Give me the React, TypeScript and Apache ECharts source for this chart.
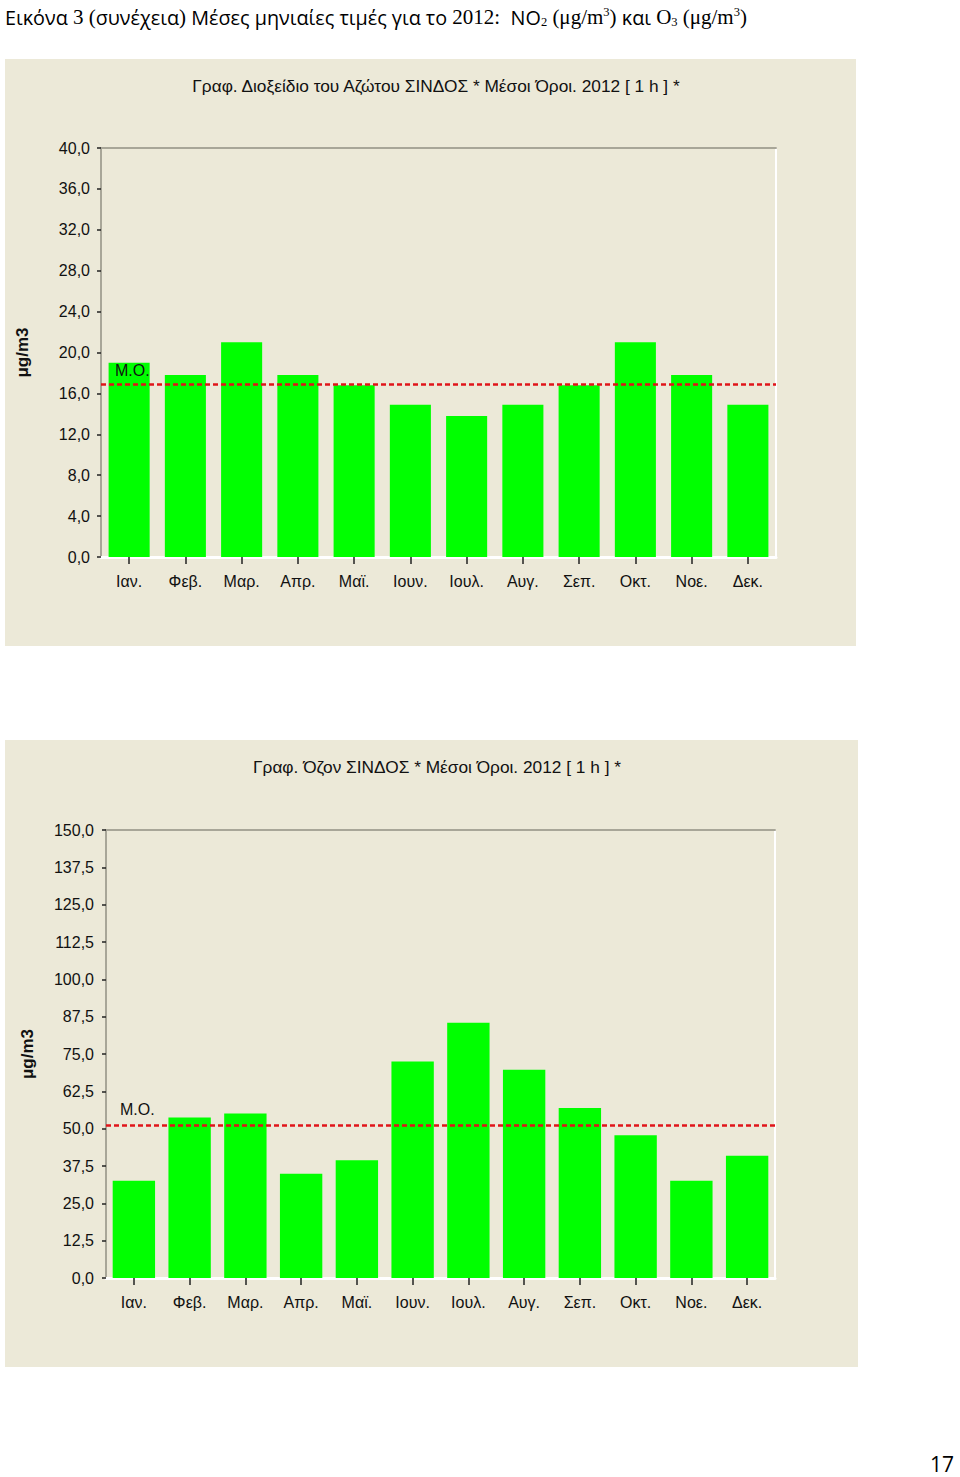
import React, { useEffect, useRef } from "react";
import * as echarts from "echarts";

// ---------- data ----------
const months = ["Ιαν.", "Φεβ.", "Μαρ.", "Απρ.", "Μαϊ.", "Ιουν.", "Ιουλ.", "Αυγ.", "Σεπ.", "Οκτ.", "Νοε.", "Δεκ."];

const no2Title = "Γραφ. Διοξείδιο του Αζώτου ΣΙΝΔΟΣ * Μέσοι Όροι. 2012 [ 1 h ] *";
const no2Values = [19.0, 17.8, 21.0, 17.8, 16.8, 14.9, 13.8, 14.9, 16.8, 21.0, 17.8, 14.9];
const no2Mean = 16.9;
const no2AxisMax = 40;
const no2AxisStep = 4;

const o3Title = "Γραφ. Όζον ΣΙΝΔΟΣ * Μέσοι Όροι. 2012 [ 1 h ] *";
const o3Values = [32.6, 53.7, 55.1, 34.9, 39.4, 72.5, 85.5, 69.7, 56.9, 47.8, 32.6, 40.9];
const o3Mean = 51.0;
const o3AxisMax = 150;
const o3AxisStep = 12.5;

const unitName = "μg/m3";
const meanLabel = "M.O.";
const pageNumber = "17";

// ---------- styles ----------
const PANEL = "#ECE9D8";
const GREEN = "#00FF00";
const RED = "#E0141A";
const AXIS_GRAY = "#A8A698";
const LABEL_FONT = "'Liberation Sans', Arial, sans-serif";
const TITLE_FONT = "'Liberation Sans Narrow', 'Liberation Sans', Arial, sans-serif";
const SANS = "'Open Sans', 'Noto Sans', sans-serif";
const SERIF = "'Liberation Serif', 'DejaVu Serif', serif";

const fmt = (v: number) => v.toFixed(1).replace(".", ",");

function axesFor(gridIndex: number, max: number, step: number, labelMargin: number, xMargin: number) {
  const xAxes = [
    {
      type: "category",
      gridIndex,
      data: months,
      position: "bottom",
      axisLine: { show: true, onZero: false, lineStyle: { color: "#ffffff", width: 3 } },
      axisTick: { show: true, alignWithLabel: true, length: 7, lineStyle: { color: "#222", width: 1.5 } },
      axisLabel: { color: "#111", fontSize: 16, fontFamily: LABEL_FONT, margin: xMargin },
      splitLine: { show: false },
    },
    {
      type: "category",
      gridIndex,
      data: months,
      position: "top",
      axisLine: { show: true, onZero: false, lineStyle: { color: AXIS_GRAY, width: 2 } },
      axisTick: { show: false },
      axisLabel: { show: false },
      splitLine: { show: false },
    },
  ];
  const yAxes = [
    {
      type: "value",
      gridIndex,
      min: 0,
      max,
      interval: step,
      position: "left",
      name: unitName,
      nameLocation: "middle",
      nameGap: 70,
      nameRotate: 90,
      nameTextStyle: { color: "#111", fontSize: 17, fontWeight: "bold", fontFamily: LABEL_FONT },
      axisLine: { show: true, onZero: false, lineStyle: { color: AXIS_GRAY, width: 2 } },
      axisTick: { show: true, length: 4, lineStyle: { color: "#222", width: 1.5 } },
      axisLabel: { color: "#111", fontSize: 16, fontFamily: LABEL_FONT, margin: labelMargin, formatter: fmt },
      splitLine: { show: false },
    },
    {
      type: "value",
      gridIndex,
      min: 0,
      max,
      interval: step,
      position: "right",
      axisLine: { show: true, onZero: false, lineStyle: { color: "#ffffff", width: 2 } },
      axisTick: { show: false },
      axisLabel: { show: false },
      splitLine: { show: false },
    },
  ];
  return { xAxes, yAxes };
}

function barSeries(idx: number, values: number[], mean: number, gap: string, dist: number[]) {
  return {
    type: "bar",
    xAxisIndex: idx,
    yAxisIndex: idx,
    data: values,
    barCategoryGap: gap,
    itemStyle: { color: GREEN },
    z: 2,
    markLine: {
      silent: true,
      symbol: "none",
      z: 5,
      data: [{ yAxis: mean }],
      lineStyle: { color: RED, type: [5, 3], width: 2.5 },
      label: {
        show: true,
        position: "insideStartTop",
        formatter: meanLabel,
        color: "#111",
        fontSize: 16,
        fontFamily: LABEL_FONT,
        distance: dist,
      },
    },
  };
}

const a1 = axesFor(0, no2AxisMax, no2AxisStep, 11, 16);
const a2 = axesFor(1, o3AxisMax, o3AxisStep, 12, 16);

const header =
  "{s|Εικόνα }{r|3 (}{s|συνέχεια}{r|) }{s|Μέσες μηνιαίες τιμές για το }{r|2012:  }{s|NO}{sub|2}{r| (μg/m}{sup|3}{r|) }{s|και }{r|O}{sub|3}{r| (μg/m}{sup|3}{r|)}";

const option: any = {
  animation: false,
  backgroundColor: "#ffffff",
  grid: [
    { left: 101, top: 148, width: 675, height: 409, containLabel: false },
    { left: 106, top: 830, width: 669, height: 448, containLabel: false },
  ],
  xAxis: [...a1.xAxes, ...a2.xAxes],
  yAxis: [...a1.yAxes, ...a2.yAxes],
  series: [
    barSeries(0, no2Values, no2Mean, "27%", [14, 6]),
    barSeries(2, o3Values, o3Mean, "24%", [14, 8]),
  ],
  graphic: [
    { type: "rect", z: -10, shape: { x: 5, y: 59, width: 851, height: 587 }, style: { fill: PANEL } },
    { type: "rect", z: -10, shape: { x: 5, y: 740, width: 853, height: 627 }, style: { fill: PANEL } },
    {
      type: "text",
      x: 436,
      y: 86,
      style: { text: no2Title, fill: "#111", fontSize: 17.3, fontFamily: TITLE_FONT, textAlign: "center", textVerticalAlign: "middle" },
    },
    {
      type: "text",
      x: 437,
      y: 767,
      style: { text: o3Title, fill: "#111", fontSize: 17.3, fontFamily: TITLE_FONT, textAlign: "center", textVerticalAlign: "middle" },
    },
    {
      type: "text",
      x: 5,
      y: 17,
      style: {
        text: header,
        fill: "#000",
        textAlign: "left",
        textVerticalAlign: "middle",
        rich: {
          s: { fontFamily: SANS, fontSize: 19.8, lineHeight: 26, fill: "#000" },
          r: { fontFamily: SERIF, fontSize: 21, lineHeight: 26, fill: "#000" },
          sub: { fontFamily: SERIF, fontSize: 12.5, lineHeight: 26, verticalAlign: "bottom", fill: "#000", padding: [0, 0, 2, 0] },
          sup: { fontFamily: SERIF, fontSize: 12.5, lineHeight: 26, verticalAlign: "top", fill: "#000", padding: [1, 0, 0, 0] },
        },
      },
    },
    {
      type: "text",
      x: 954,
      y: 1464,
      style: { text: pageNumber, fill: "#000", fontSize: 21, fontFamily: SANS, textAlign: "right", textVerticalAlign: "middle" },
    },
  ],
};

export default function App() {
  const ref = useRef<HTMLDivElement>(null);
  useEffect(() => {
    if (!ref.current) return;
    const chart = echarts.init(ref.current, null, { renderer: "svg", width: 960, height: 1477 });
    chart.setOption(option);
    return () => chart.dispose();
  }, []);
  return (
    <div
      ref={ref}
      style={{ position: "absolute", left: 0, top: 0, width: 960, height: 1477, background: "#ffffff" }}
    />
  );
}
